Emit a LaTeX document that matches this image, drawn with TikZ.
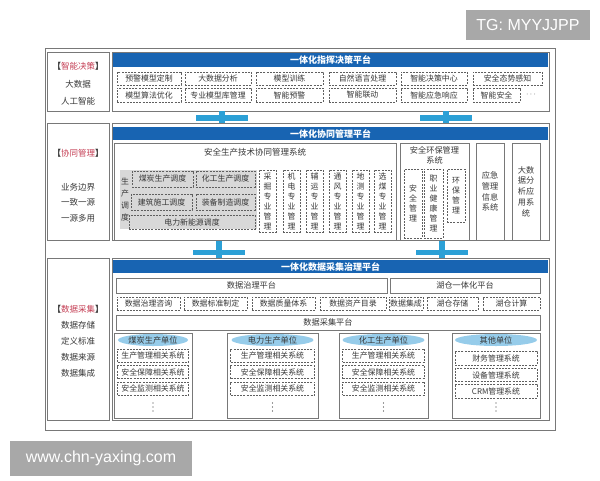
\documentclass[tikz,border=0pt]{standalone}
\usepackage{fontspec}
\setmainfont{Noto Sans CJK SC}
\newfontfamily\wmfont{Liberation Sans}
\usetikzlibrary{positioning,shapes.geometric}
\definecolor{headblue}{RGB}{24,100,178}
\definecolor{barblue}{RGB}{44,160,214}
\definecolor{linegray}{RGB}{120,120,120}
\definecolor{dashgray}{RGB}{95,95,95}
\definecolor{txtgray}{RGB}{55,55,55}
\definecolor{schedgray}{RGB}{216,216,216}
\definecolor{tagred}{RGB}{196,62,84}
\definecolor{unitblue}{RGB}{150,204,234}
\definecolor{wmgray}{RGB}{168,168,168}
\begin{document}
\begin{tikzpicture}[x=1pt,y=-1pt,
  cell/.style={draw=linegray, line width=0.7pt, rectangle, inner sep=0},
  head/.style={fill=headblue, text=white, inner sep=0, font=\bfseries\fontsize{9}{10}\selectfont},
  dbox/.style={draw=dashgray, dash pattern=on 2pt off 1.2pt, line width=0.5pt, inner sep=0, text=txtgray, font=\fontsize{7.9}{9}\selectfont},
  vbox/.style={dbox, align=center, font=\fontsize{7.9}{10}\selectfont},
  sbox/.style={draw=linegray, line width=0.6pt, inner sep=0, text=txtgray, align=center, font=\fontsize{8.2}{10.8}\selectfont},
  side/.style={text=txtgray, inner sep=0, align=center, font=\fontsize{8.5}{10}\selectfont},
  unit/.style={ellipse, fill=unitblue, inner sep=0, text=txtgray, font=\fontsize{8.2}{9}\selectfont},
  link/.style={barblue, line width=6pt},
  wm/.style={fill=wmgray, text=white, inner sep=0, font=\wmfont\fontsize{16}{18}\selectfont}]
\useasboundingbox (0,0) rectangle (600,480);
\draw[linegray, line width=0.7pt] (45,48) rectangle (555,430);
\node[cell, minimum width=62, minimum height=59] (L1) at (78,81.5) {};
\node[cell, minimum width=437, minimum height=59] (R1) at (330.5,81.5) {};
\node[cell, minimum width=62, minimum height=117] (L2) at (78,181.5) {};
\node[cell, minimum width=437, minimum height=117] (R2) at (330.5,181.5) {};
\node[cell, minimum width=62, minimum height=162] (L3) at (78,339) {};
\node[cell, minimum width=437, minimum height=162] (R3) at (330.5,339) {};
\node[side] (t1) at (78,66) {\textbf{【}\textcolor{tagred}{智能决策}\textbf{】}};
\node[side] (t1a) at (78,84) {大数据};
\node[side] (t1b) at (78,101) {人工智能};
\node[side] (t2) at (78,153) {\textbf{【}\textcolor{tagred}{协同管理}\textbf{】}};
\node[side] (t2a) at (78,187) {业务边界};
\node[side] (t2b) at (78,202) {一致一源};
\node[side] (t2c) at (78,218) {一源多用};
\node[side] (t3) at (78,309) {\textbf{【}\textcolor{tagred}{数据采集}\textbf{】}};
\node[side] (t3a) at (78,325) {数据存储};
\node[side] (t3b) at (78,341) {定义标准};
\node[side] (t3c) at (78,357) {数据来源};
\node[side] (t3d) at (78,373) {数据集成};
\node[head, minimum width=435, minimum height=14] (H1) at (330.5,60) {一体化指挥决策平台};
\node[dbox, minimum width=64, minimum height=13] (m11) at (149,78.5) {预警模型定制};
\node[dbox, minimum width=66, minimum height=13] (m12) at (218,78.5) {大数据分析};
\node[dbox, minimum width=67, minimum height=13] (m13) at (289.5,78.5) {模型训练};
\node[dbox, minimum width=67, minimum height=13] (m14) at (362.5,78.5) {自然语言处理};
\node[dbox, minimum width=66, minimum height=13] (m15) at (434,78.5) {智能决策中心};
\node[dbox, minimum width=69, minimum height=13] (m16) at (507.5,78.5) {安全态势感知};
\node[dbox, minimum width=64, minimum height=14] (m21) at (149,95) {模型算法优化};
\node[dbox, minimum width=66, minimum height=14] (m22) at (218,95) {专业模型库管理};
\node[dbox, minimum width=67, minimum height=14] (m23) at (289.5,95) {智能预警};
\node[dbox, minimum width=67, minimum height=14] (m24) at (362.5,95) {智能联动};
\node[dbox, minimum width=66, minimum height=14] (m25) at (434,95) {智能应急响应};
\node[dbox, minimum width=47, minimum height=14] (m26) at (496.5,95) {智能安全};
\node[side] (m27) at (531,95) {$\cdots$};
\coordinate (k1) at (222,118);
\coordinate (k2) at (445.5,118);
\coordinate (k3) at (218.5,252.5);
\coordinate (k4) at (442,252.5);
\fill[barblue] (k1) +(-26,-2.8) rectangle +(26,2.8);
\fill[barblue] (k2) +(-26,-2.8) rectangle +(26,2.8);
\fill[barblue] (k3) +(-26,-2.8) rectangle +(26,2.8);
\fill[barblue] (k4) +(-26,-2.8) rectangle +(26,2.8);
\draw[link] (k1 |- R1.south) -- (k1 |- R2.north);
\draw[link] (k2 |- R1.south) -- (k2 |- R2.north);
\draw[link] (k3 |- R2.south) -- (k3 |- R3.north);
\draw[link] (k4 |- R2.south) -- (k4 |- R3.north);
\node[head, minimum width=435, minimum height=13] (H2) at (330.5,133.5) {一体化协同管理平台};
\node[sbox, minimum width=282, minimum height=97] (A) at (255,191.5) {};
\node[side] (At) at (255,152) {安全生产技术协同管理系统};
\node[fill=schedgray, minimum width=137, minimum height=59, inner sep=0] (G) at (188.5,199.5) {};
\node[side, font=\fontsize{7.9}{12}\selectfont] (Gt) at (125,199) {生\\产\\调\\度};
\node[dbox, minimum width=61, minimum height=16] (g1) at (162.5,179) {煤炭生产调度};
\node[dbox, minimum width=59, minimum height=16] (g2) at (225.5,179) {化工生产调度};
\node[dbox, minimum width=61, minimum height=16] (g3) at (161.5,202) {建筑施工调度};
\node[dbox, minimum width=59, minimum height=16] (g4) at (225.5,202) {装备制造调度};
\node[dbox, minimum width=126, minimum height=14] (g5) at (192,222) {电力新能源调度};
\node[vbox, minimum width=17, minimum height=62] (v1) at (267.5,201) {采\\掘\\专\\业\\管\\理};
\node[vbox, minimum width=17, minimum height=62] (v2) at (291.5,201) {机\\电\\专\\业\\管\\理};
\node[vbox, minimum width=17, minimum height=62] (v3) at (314.5,201) {辅\\运\\专\\业\\管\\理};
\node[vbox, minimum width=17, minimum height=62] (v4) at (337.5,201) {通\\风\\专\\业\\管\\理};
\node[vbox, minimum width=17, minimum height=62] (v5) at (360.5,201) {地\\测\\专\\业\\管\\理};
\node[vbox, minimum width=17, minimum height=62] (v6) at (382.5,201) {选\\煤\\专\\业\\管\\理};
\node[sbox, minimum width=69, minimum height=97] (B) at (434.5,191.5) {};
\node[side, font=\fontsize{8.2}{10}\selectfont] (Bt) at (434.5,155) {安全环保管理\\系统};
\node[vbox, minimum width=18, minimum height=69] (b1) at (413,203.5) {安\\全\\管\\理};
\node[vbox, minimum width=19, minimum height=69] (b2) at (433.5,203.5) {职\\业\\健\\康\\管\\理};
\node[vbox, minimum width=18, minimum height=53] (b3) at (456,195.5) {环\\保\\管\\理};
\node[sbox, minimum width=28, minimum height=97] (C) at (490,191.5) {应急\\管理\\信息\\系统};
\node[sbox, minimum width=28, minimum height=97] (D) at (526,191.5) {大数\\据分\\析应\\用系\\统};
\node[head, minimum width=435, minimum height=13] (H3) at (330.5,266.5) {一体化数据采集治理平台};
\node[sbox, minimum width=271, minimum height=15] (P1) at (251.5,285.5) {数据治理平台};
\node[sbox, minimum width=150, minimum height=15] (P2) at (465,285.5) {湖仓一体化平台};
\node[dbox, minimum width=63, minimum height=13] (e1) at (148.5,303.5) {数据治理咨询};
\node[dbox, minimum width=63, minimum height=13] (e2) at (215.5,303.5) {数据标准制定};
\node[dbox, minimum width=63, minimum height=13] (e3) at (283.5,303.5) {数据质量体系};
\node[dbox, minimum width=66, minimum height=13] (e4) at (353,303.5) {数据资产目录};
\node[dbox, minimum width=34, minimum height=13] (e5) at (406,303.5) {数据集成};
\node[dbox, minimum width=51, minimum height=13] (e6) at (452.5,303.5) {湖仓存储};
\node[dbox, minimum width=57, minimum height=13] (e7) at (511.5,303.5) {湖仓计算};
\node[sbox, minimum width=424, minimum height=15] (P3) at (328,322.5) {数据采集平台};
\node[sbox, minimum width=78, minimum height=85] (U1) at (153,375.5) {};
\node[sbox, minimum width=91, minimum height=85] (U2) at (272.5,375.5) {};
\node[sbox, minimum width=89, minimum height=85] (U3) at (383.5,375.5) {};
\node[sbox, minimum width=88, minimum height=85] (U4) at (496,375.5) {};
\node[unit, minimum width=70, minimum height=12] (u1) at (153,340) {煤炭生产单位};
\node[unit, minimum width=82, minimum height=12] (u2) at (272.5,340) {电力生产单位};
\node[unit, minimum width=82, minimum height=12] (u3) at (383.5,340) {化工生产单位};
\node[unit, minimum width=82, minimum height=12] (u4) at (496,340) {其他单位};
\node[dbox, minimum width=71, minimum height=13] (s11) at (153,355.5) {生产管理相关系统};
\node[dbox, minimum width=71, minimum height=13] (s12) at (153,372) {安全保障相关系统};
\node[dbox, minimum width=71, minimum height=13] (s13) at (153,388.5) {安全监测相关系统};
\node[dbox, minimum width=84, minimum height=13] (s21) at (272.5,355.5) {生产管理相关系统};
\node[dbox, minimum width=84, minimum height=13] (s22) at (272.5,372) {安全保障相关系统};
\node[dbox, minimum width=84, minimum height=13] (s23) at (272.5,388.5) {安全监测相关系统};
\node[dbox, minimum width=82, minimum height=13] (s31) at (383.5,355.5) {生产管理相关系统};
\node[dbox, minimum width=82, minimum height=13] (s32) at (383.5,372) {安全保障相关系统};
\node[dbox, minimum width=82, minimum height=13] (s33) at (383.5,388.5) {安全监测相关系统};
\node[dbox, minimum width=82, minimum height=14] (s41) at (496,358) {财务管理系统};
\node[dbox, minimum width=82, minimum height=13] (s42) at (496,375) {设备管理系统};
\node[dbox, minimum width=82, minimum height=14] (s43) at (496,391) {CRM管理系统};
\foreach \cx in {153,272.5,383.5,496}
  \foreach \cy in {403,407,411}
    \fill[txtgray] (\cx,\cy) circle (0.6);
\node[wm, minimum width=124, minimum height=30] (tg) at (528,25) {TG: MYYJJPP};
\node[wm, minimum width=182, minimum height=35] (web) at (101,458.5) {www.chn-yaxing.com};
\end{tikzpicture}
\end{document}
